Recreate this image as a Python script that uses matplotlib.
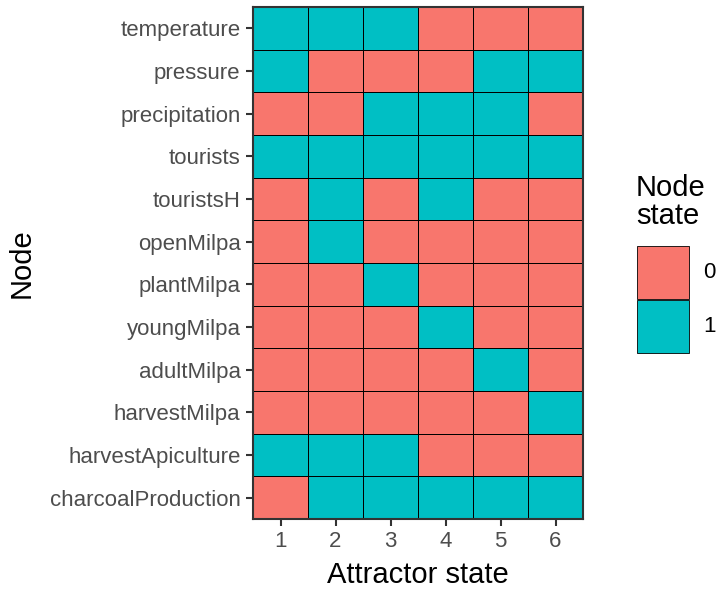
import matplotlib
matplotlib.use("Agg")
import matplotlib.pyplot as plt
import numpy as np
from matplotlib.colors import ListedColormap
from matplotlib.patches import Rectangle

plt.rcParams["font.family"] = ["Liberation Sans", "DejaVu Sans"]

nodes = [
    "temperature", "pressure", "precipitation", "tourists", "touristsH",
    "openMilpa", "plantMilpa", "youngMilpa", "adultMilpa", "harvestMilpa",
    "harvestApiculture", "charcoalProduction",
]
attractors = [1, 2, 3, 4, 5, 6]
states = [
    [1, 1, 1, 0, 0, 0],
    [1, 0, 0, 0, 1, 1],
    [0, 0, 1, 1, 1, 0],
    [1, 1, 1, 1, 1, 1],
    [0, 1, 0, 1, 0, 0],
    [0, 1, 0, 0, 0, 0],
    [0, 0, 1, 0, 0, 0],
    [0, 0, 0, 1, 0, 0],
    [0, 0, 0, 0, 1, 0],
    [0, 0, 0, 0, 0, 1],
    [1, 1, 1, 0, 0, 0],
    [0, 1, 1, 1, 1, 1],
]
legend_labels = ["0", "1"]
colors = ["#F8766D", "#00BFC4"]

grid = np.array(states)
fig = plt.figure(figsize=(7.19, 5.94), dpi=100)
ax = fig.add_axes([0.3519, 0.1263, 0.4590, 0.8620])

xe = np.arange(len(attractors) + 1) + 0.5
ye = np.arange(len(nodes) + 1) - 0.5
ax.pcolormesh(xe, ye, grid, cmap=ListedColormap(colors), vmin=-0.5, vmax=1.5,
              edgecolors="black", linewidth=0.6)
ax.set_xlim(xe[0], xe[-1])
ax.set_ylim(ye[-1], ye[0])
ax.set_xticks(attractors)
ax.set_xticklabels([str(a) for a in attractors])
ax.set_yticks(range(len(nodes)))
ax.set_yticklabels(nodes)
ax.tick_params(axis="both", colors="#333333", labelcolor="#4D4D4D",
               labelsize=16, length=5, width=1.5, pad=4)
for sp in ax.spines.values():
    sp.set_color("#333333")
    sp.set_linewidth(1.5)
ax.set_xlabel("Attractor state", fontsize=21, labelpad=6)
ax.set_ylabel("Node", fontsize=21, labelpad=10)

# legend drawn manually, ggplot style
lax = fig.add_axes([0, 0, 1, 1], facecolor="none")
lax.set_xlim(0, 719)
lax.set_ylim(594, 0)
lax.axis("off")
lax.text(636, 202, "Node\nstate", fontsize=21, va="center", ha="left",
         linespacing=1.0)
for i, (lab, col) in enumerate(zip(legend_labels, colors)):
    y0 = 246 + i * 53.5
    lax.add_patch(Rectangle((637, y0), 52, 53, facecolor=col,
                            edgecolor="black", linewidth=0.6))
    lax.text(703, y0 + 26.5, lab, fontsize=16, va="center", ha="left",
             color="black")

fig.savefig("out.png", dpi=100)
